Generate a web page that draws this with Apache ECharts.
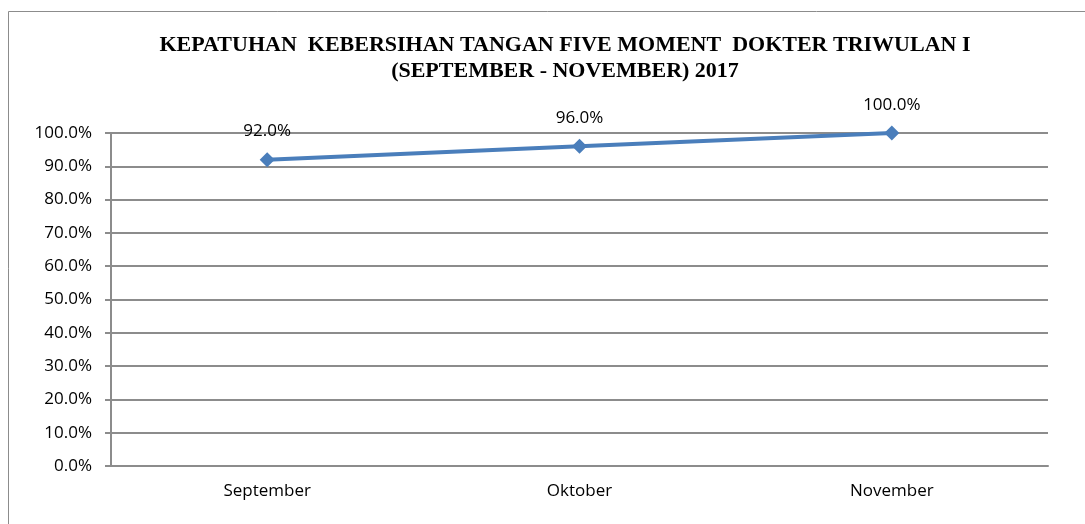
<!DOCTYPE html>
<html>
<head>
<meta charset="utf-8">
<script src="https://cdn.jsdelivr.net/npm/echarts@6/dist/echarts.min.js"></script>
<style>
  html, body { margin: 0; padding: 0; background: #fff; }
  #chart { width: 1085px; height: 524px; }
</style>
</head>
<body>
<div id="chart"></div>
<script>
// data
const months = ['September', 'Oktober', 'November'];
const kepatuhan = [0.92, 0.96, 1.00];
const judul = 'KEPATUHAN  KEBERSIHAN TANGAN FIVE MOMENT  DOKTER TRIWULAN I\n(SEPTEMBER - NOVEMBER) 2017';

const myChart = echarts.init(document.getElementById('chart'));

const pct = v => (v * 100).toFixed(1) + '%';

const option = {
    animation: false,
    backgroundColor: '#fff',
    title: {
        text: judul,
        left: 560,
        textAlign: 'center',
        top: 27,
        textStyle: {
            fontFamily: 'Liberation Serif',
            fontWeight: 'bold',
            fontSize: 22,
            lineHeight: 26,
            color: '#000'
        }
    },
    // bingkai luar
    graphic: [{
        type: 'rect',
        shape: { x: 8.5, y: 11.5, width: 1090, height: 530 },
        style: { fill: 'none', stroke: '#8c8c8c', lineWidth: 1 },
        silent: true
    }],
    grid: {
        left: 111,
        right: 37,
        top: 133,
        bottom: 58
    },
    xAxis: {
        type: 'category',
        data: months,
        boundaryGap: true,
        axisLine: { lineStyle: { color: '#8c8c8c', width: 2 } },
        axisTick: { show: false },
        axisLabel: {
            fontFamily: 'Open Sans',
            fontSize: 17,
            color: '#000',
            margin: 17
        }
    },
    yAxis: {
        type: 'value',
        min: 0,
        max: 1,
        interval: 0.1,
        axisLine: { show: true, lineStyle: { color: '#8c8c8c', width: 2 } },
        axisTick: { show: true, length: 6, lineStyle: { color: '#8c8c8c', width: 2 } },
        splitLine: { lineStyle: { color: '#8c8c8c', width: 2 } },
        axisLabel: {
            fontFamily: 'Open Sans',
            fontSize: 17,
            color: '#000',
            margin: 19,
            formatter: v => pct(v)
        }
    },
    series: [{
        type: 'line',
        data: kepatuhan,
        symbol: 'diamond',
        symbolSize: 15,
        lineStyle: { color: '#4a7ebb', width: 4 },
        itemStyle: { color: '#4a7ebb' },
        label: {
            show: true,
            position: 'top',
            distance: 12,
            fontFamily: 'Open Sans',
            fontSize: 17,
            color: '#000',
            formatter: p => pct(p.value)
        }
    }]
};
myChart.setOption(option);
</script>
</body>
</html>
